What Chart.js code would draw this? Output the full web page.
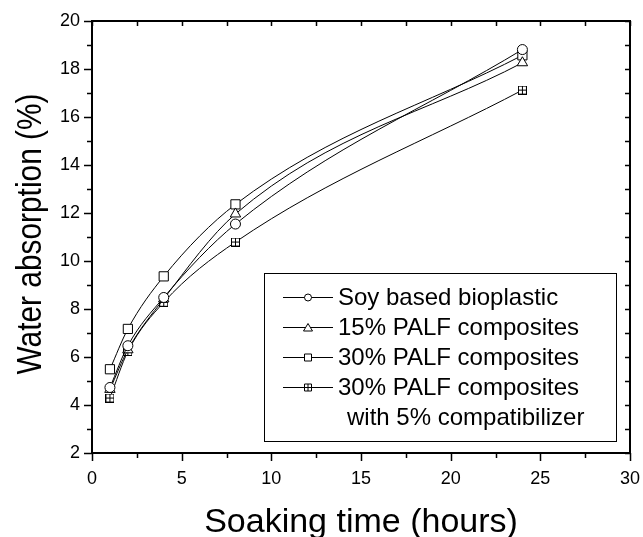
<!DOCTYPE html>
<html>
<head>
<meta charset="utf-8">
<script src="https://cdn.jsdelivr.net/npm/chart.js@4/dist/chart.umd.min.js"></script>
<style>
  html, body { margin: 0; padding: 0; background: #fff; }
  #wrap { width: 643px; height: 537px; }
</style>
</head>
<body>
<div id="wrap"><canvas id="chart" width="643" height="537"></canvas></div>
<script>
// soaking time (h) and water uptake (%) per material
const hours = [1, 2, 4, 8, 24]
const soyBio = [4.73, 6.47, 8.48, 11.54, 18.81]
const palf15 = [4.65, 6.30, 8.42, 11.96, 18.26]
const palf30 = [5.49, 7.17, 9.36, 12.36, 18.57]
const palf30Compat = [4.29, 6.23, 8.28, 10.79, 17.12]

const seriesNames = [
    "Soy based bioplastic",
    "15% PALF composites",
    "30% PALF composites",
    "30% PALF composites",
]
const legendExtraLine = "with 5% compatibilizer"

const xTicks = [0, 5, 10, 15, 20, 25, 30]
const yTicks = [2, 4, 6, 8, 10, 12, 14, 16, 18, 20]

const FONT = "'Liberation Sans', Arial, sans-serif"

// square with a plus inside, used for the compatibilizer series
function crossedSquare(size) {
    const c = document.createElement("canvas")
    c.width = size
    c.height = size
    const g = c.getContext("2d")
    g.fillStyle = "white"
    g.fillRect(0, 0, size, size)
    g.strokeStyle = "black"
    g.lineWidth = 1
    g.strokeRect(0.5, 0.5, size - 1, size - 1)
    g.beginPath()
    g.moveTo(size / 2, 0.5); g.lineTo(size / 2, size - 0.5)
    g.moveTo(0.5, size / 2); g.lineTo(size - 0.5, size / 2)
    g.stroke()
    return c
}

function toPoints(values) {
    return hours.map((h, i) => ({x: h, y: values[i]}))
}

function series(label, values, style, radius) {
    return {
        label: label,
        data: toPoints(values),
        borderColor: "black",
        borderWidth: 1,
        backgroundColor: "white",
        pointBackgroundColor: "white",
        pointBorderColor: "black",
        pointBorderWidth: 1,
        pointStyle: style,
        pointRadius: radius,
        cubicInterpolationMode: "monotone",
        fill: false
    }
}

function drawMarker(ctx, style, x, y) {
    ctx.save()
    ctx.strokeStyle = "black"
    ctx.fillStyle = "white"
    ctx.lineWidth = 1
    ctx.beginPath()
    if (style === "circle") {
        ctx.arc(x, y, 3.5, 0, Math.PI * 2)
    } else if (style === "triangle") {
        ctx.moveTo(x, y - 4)
        ctx.lineTo(x + 4.5, y + 3.5)
        ctx.lineTo(x - 4.5, y + 3.5)
        ctx.closePath()
    } else {
        ctx.rect(x - 3.5, y - 3.5, 7, 7)
    }
    ctx.fill()
    ctx.stroke()
    if (style === "crossed") {
        ctx.beginPath()
        ctx.moveTo(x, y - 3.5); ctx.lineTo(x, y + 3.5)
        ctx.moveTo(x - 3.5, y); ctx.lineTo(x + 3.5, y)
        ctx.stroke()
    }
    ctx.restore()
}

// frame, minor ticks, axis titles and the boxed legend
const framePlugin = {
    id: "frame",
    afterDraw(chart) {
        const ctx = chart.ctx
        const {left, right, top, bottom} = chart.chartArea
        const xs = chart.scales.x
        const ys = chart.scales.y
        ctx.save()
        ctx.strokeStyle = "black"

        ctx.lineWidth = 1.5
        ctx.beginPath()
        for (let v = 0; v <= 30; v += 2.5) {
            const px = Math.round(xs.getPixelForValue(v)) + 0.5
            const major = v % 5 === 0
            ctx.moveTo(px, bottom); ctx.lineTo(px, bottom + (major ? 8 : 5))
            ctx.moveTo(px, top); ctx.lineTo(px, top + 5)
        }
        for (let v = 2; v <= 20; v += 1) {
            const py = Math.round(ys.getPixelForValue(v)) + 0.5
            const major = v % 2 === 0
            ctx.moveTo(left, py); ctx.lineTo(left - (major ? 8 : 5), py)
            ctx.moveTo(right, py); ctx.lineTo(right - 5, py)
        }
        ctx.stroke()

        ctx.lineWidth = 2
        ctx.strokeRect(left, top, right - left, bottom - top)

        // axis titles
        ctx.fillStyle = "black"
        ctx.font = "34px " + FONT
        ctx.textAlign = "center"
        ctx.textBaseline = "alphabetic"
        ctx.fillText("Soaking time (hours)", (left + right) / 2, 532)

        ctx.save()
        ctx.translate(41, 234)
        ctx.rotate(-Math.PI / 2)
        ctx.font = "35px " + FONT
        ctx.fillText("Water absorption (%)", 0, 0, 281)
        ctx.restore()

        // legend
        const box = {x: 264.5, y: 273.5, w: 352, h: 168}
        ctx.fillStyle = "white"
        ctx.fillRect(box.x, box.y, box.w, box.h)
        ctx.lineWidth = 1
        ctx.strokeRect(box.x, box.y, box.w, box.h)

        const styles = ["circle", "triangle", "rect", "crossed"]
        const rowY = [297, 327, 357, 387]
        ctx.font = "24px " + FONT
        ctx.textAlign = "left"
        ctx.textBaseline = "middle"
        rowY.forEach((y, i) => {
            ctx.beginPath()
            ctx.moveTo(283, y + 0.5); ctx.lineTo(333, y + 0.5)
            ctx.stroke()
            drawMarker(ctx, styles[i], 308, y + 0.5)
            ctx.fillStyle = "black"
            ctx.fillText(seriesNames[i], 338, y + 1)
        })
        ctx.fillText(legendExtraLine, 347, 418)
        ctx.restore()
    }
}

new Chart(document.getElementById("chart"), {
    type: "line",
    data: {
        datasets: [
            series(seriesNames[0], soyBio, "circle", 5),
            series(seriesNames[1], palf15, "triangle", 6),
            series(seriesNames[2], palf30, "rect", 6.5),
            series(seriesNames[3] + " " + legendExtraLine, palf30Compat, crossedSquare(9), 5)
        ]
    },
    options: {
        responsive: false,
        animation: false,
        layout: {padding: {top: 21, right: 13, left: 0, bottom: 0}},
        plugins: {
            legend: {display: false},
            tooltip: {enabled: false}
        },
        scales: {
            x: {
                type: "linear",
                min: 0,
                max: 30,
                afterFit: s => { s.height = 84; s.paddingLeft = 0; s.paddingRight = 0 },
                afterBuildTicks: s => { s.ticks = xTicks.map(v => ({value: v})) },
                grid: {display: false, drawTicks: false},
                border: {display: false},
                ticks: {
                    padding: 15,
                    color: "black",
                    font: {family: FONT, size: 18},
                    maxRotation: 0
                }
            },
            y: {
                min: 2,
                max: 20,
                afterFit: s => { s.width = 92; s.paddingTop = 0; s.paddingBottom = 0 },
                afterBuildTicks: s => { s.ticks = yTicks.map(v => ({value: v})) },
                grid: {display: false, drawTicks: false},
                border: {display: false},
                ticks: {
                    padding: 12,
                    color: "black",
                    font: {family: FONT, size: 18}
                }
            }
        }
    },
    plugins: [framePlugin]
})
</script>
</body>
</html>
